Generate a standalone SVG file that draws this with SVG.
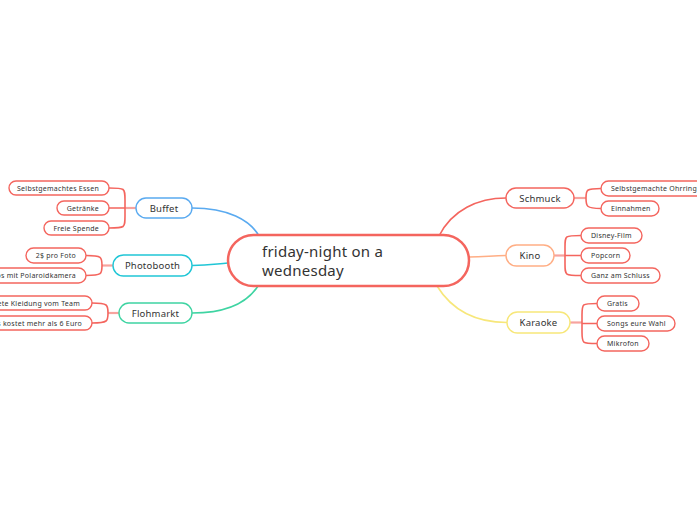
<svg xmlns="http://www.w3.org/2000/svg" width="697" height="520" viewBox="0 0 697 520">
<style>
text{font-family:"Noto Sans","Liberation Sans",sans-serif;fill:#333;dominant-baseline:central}
.leaf rect{fill:#fff;stroke:#f4655e;stroke-width:1.4}
.leaf text{font-size:7px;letter-spacing:0.25px}
.lt text{text-anchor:end}
.main rect{fill:#fff;stroke-width:1.4}
.main text{font-size:9.5px;text-anchor:middle;letter-spacing:0.2px}
.conn path{fill:none;stroke-width:1.6}
.br{stroke:#f4655e}
.stem{stroke:#f7a39e;stroke-width:2.2!important}
</style>
<rect width="697" height="520" fill="#fff"/>
<g id="connectors" class="conn">
<path d="M192,208 C228,208 250,220 259,236" stroke="#5aaaf0"/>
<path d="M192,265.5 C210,265.5 215,264 228,263" stroke="#20c6d6"/>
<path d="M192,313 C225,313 247,303 258,286" stroke="#3ed4a2"/>
<path d="M439,236 C452,210 478,198 506,198" stroke="#f4655e"/>
<path d="M469,257 C485,257 492,255.5 506,255.5" stroke="#ffae85"/>
<path d="M437,286 C455,315 482,322.5 507,322.5" stroke="#f7e77a"/>
<path class="stem" d="M136,208 H125"/>
<path class="br" d="M109,188 C125,188 125,188 125,200 V216 C125,228 125,228 109,228 M109,208 H125"/>
<path class="stem" d="M113,265.5 H102"/>
<path class="br" d="M86,255.5 C102,255.5 102,257 102,265.5 C102,274 102,275.5 86,275.5"/>
<path class="stem" d="M119,313 H108"/>
<path class="br" d="M92,303 C108,303 108,305 108,313 C108,321 108,323 92,323"/>
<path class="stem" d="M574,198 H586"/>
<path class="br" d="M601,188.5 C586,188.5 586,190 586,198 C586,206 586,208.5 601,208.5"/>
<path class="stem" d="M554,255.5 H565"/>
<path class="br" d="M581,235.5 C565,235.5 565,235.5 565,247 V264 C565,275.5 565,275.5 581,275.5 M565,255.5 H581"/>
<path class="stem" d="M570,322.5 H582"/>
<path class="br" d="M597,303.5 C582,303.5 582,303.5 582,315 V332 C582,343.5 582,343.5 597,343.5 M582,323.5 H597"/>
</g>
<g id="central">
<rect x="228" y="235" width="241" height="51" rx="25.5" fill="#fff" stroke="#f4655e" stroke-width="2.5"/>
<text x="262" y="251" font-size="15" letter-spacing="0.25">friday-night on a</text>
<text x="262" y="270" font-size="15" letter-spacing="0.25">wednesday</text>
</g>
<g id="buffet" class="main"><rect x="136" y="198" width="56" height="20" rx="10" stroke="#5aaaf0"/><text x="164" y="208">Buffet</text></g>
<g id="photobooth" class="main"><rect x="113" y="255" width="79" height="21" rx="10.5" stroke="#20c6d6"/><text x="152.5" y="265.5">Photobooth</text></g>
<g id="flohmarkt" class="main"><rect x="119" y="303" width="73" height="20" rx="10" stroke="#3ed4a2"/><text x="155.5" y="313">Flohmarkt</text></g>
<g id="schmuck" class="main"><rect x="506" y="188" width="68" height="20" rx="10" stroke="#f4655e"/><text x="540" y="198">Schmuck</text></g>
<g id="kino" class="main"><rect x="506" y="245" width="48" height="21" rx="10.5" stroke="#ffae85"/><text x="530" y="255.5">Kino</text></g>
<g id="karaoke" class="main"><rect x="507" y="312" width="63" height="21" rx="10.5" stroke="#f7e77a"/><text x="538.5" y="322.5">Karaoke</text></g>
<g id="essen" class="leaf lt"><rect x="9" y="181" width="100" height="14" rx="7"/><text x="99" y="188">Selbstgemachtes Essen</text></g>
<g id="getraenke" class="leaf lt"><rect x="57" y="201" width="52" height="14" rx="7"/><text x="99" y="208">Getränke</text></g>
<g id="spende" class="leaf lt"><rect x="44" y="221" width="65" height="14" rx="7"/><text x="99" y="228">Freie Spende</text></g>
<g id="foto" class="leaf lt"><rect x="26" y="248" width="60" height="15" rx="7.5"/><text x="76" y="255.5">2$ pro Foto</text></g>
<g id="polaroid" class="leaf lt"><rect x="-40" y="268" width="126" height="15" rx="7.5"/><text x="76" y="275.5">Fotos mit Polaroidkamera</text></g>
<g id="kleidung" class="leaf lt"><rect x="-60" y="296" width="152" height="14" rx="7"/><text x="80" y="303">Gespendete Kleidung vom Team</text></g>
<g id="euro" class="leaf lt"><rect x="-50" y="316" width="142" height="14" rx="7"/><text x="82" y="323">Nichts kostet mehr als 6 Euro</text></g>
<g id="ohrringe" class="leaf"><rect x="601" y="181" width="120" height="15" rx="7.5"/><text x="611" y="188.5">Selbstgemachte Ohrringe</text></g>
<g id="einnahmen" class="leaf"><rect x="601" y="201" width="58" height="15" rx="7.5"/><text x="611" y="208.5">Einnahmen</text></g>
<g id="disney" class="leaf"><rect x="581" y="228" width="61" height="15" rx="7.5"/><text x="591" y="235.5">Disney-Film</text></g>
<g id="popcorn" class="leaf"><rect x="581" y="248" width="49" height="15" rx="7.5"/><text x="591" y="255.5">Popcorn</text></g>
<g id="schluss" class="leaf"><rect x="581" y="268" width="79" height="15" rx="7.5"/><text x="591" y="275.5">Ganz  am Schluss</text></g>
<g id="gratis" class="leaf"><rect x="597" y="296" width="42" height="15" rx="7.5"/><text x="607" y="303.5">Gratis</text></g>
<g id="songs" class="leaf"><rect x="597" y="316" width="78" height="15" rx="7.5"/><text x="607" y="323.5">Songs eure Wahl</text></g>
<g id="mikrofon" class="leaf"><rect x="597" y="336" width="52" height="15" rx="7.5"/><text x="607" y="343.5">Mikrofon</text></g>
</svg>
